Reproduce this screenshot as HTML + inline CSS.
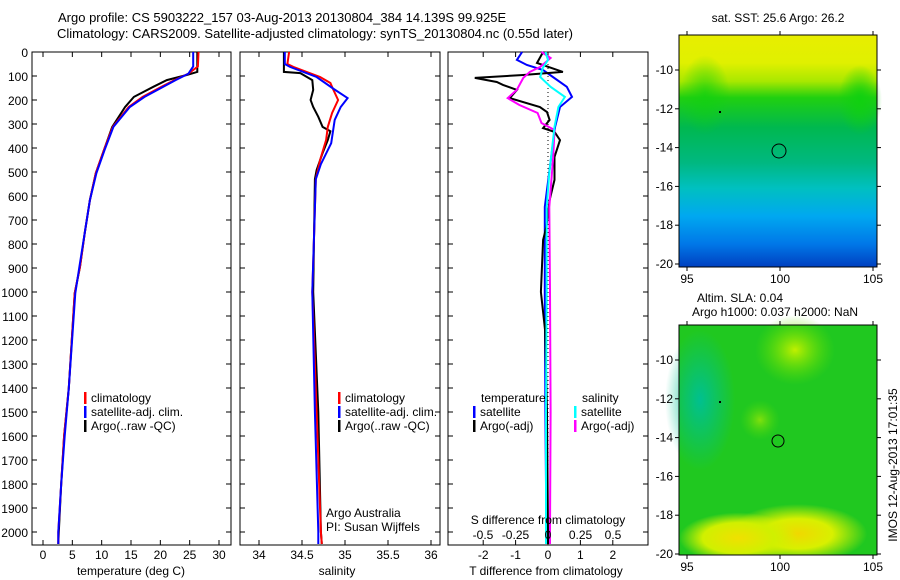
<!DOCTYPE html>
<html><head><meta charset="utf-8"><style>
body{margin:0;background:#fff;overflow:hidden;}
svg{display:block;font-family:"Liberation Sans",sans-serif;}
text{font-size:12px;fill:#000;}
</style></head><body>
<svg id="c" width="900" height="580" viewBox="0 0 900 580">
<defs>
<linearGradient id="sstBase" x1="0" y1="0" x2="0" y2="1">
<stop offset="0" stop-color="#e8ee00"/><stop offset="0.12" stop-color="#e0f000"/><stop offset="0.2" stop-color="#a8e800"/>
<stop offset="0.27" stop-color="#20d010"/><stop offset="0.4" stop-color="#00b850"/><stop offset="0.55" stop-color="#00b880"/>
<stop offset="0.66" stop-color="#00c0c0"/><stop offset="0.78" stop-color="#00a8f0"/><stop offset="0.9" stop-color="#0078e8"/>
<stop offset="1" stop-color="#0040c0"/></linearGradient>
<radialGradient id="y1" cx="0.6" cy="0.75" r="0.35"><stop offset="0" stop-color="#f0d800"/><stop offset="0.5" stop-color="#d8f000"/><stop offset="1" stop-color="#d8f000" stop-opacity="0"/></radialGradient>
<radialGradient id="y2" cx="0.3" cy="0.8" r="0.3"><stop offset="0" stop-color="#f0e000"/><stop offset="0.6" stop-color="#d0f000"/><stop offset="1" stop-color="#d0f000" stop-opacity="0"/></radialGradient>
<radialGradient id="y3" cx="0.5" cy="0.5" r="0.5"><stop offset="0" stop-color="#c0f000"/><stop offset="1" stop-color="#60e000" stop-opacity="0"/></radialGradient>
<radialGradient id="t1" cx="0.5" cy="0.5" r="0.5"><stop offset="0" stop-color="#00c090"/><stop offset="1" stop-color="#00c090" stop-opacity="0"/></radialGradient>
<radialGradient id="g1" cx="0.5" cy="0.5" r="0.5"><stop offset="0" stop-color="#10d010"/><stop offset="1" stop-color="#10d010" stop-opacity="0"/></radialGradient>
</defs>
<g id="title">
<text x="58" y="22" style="font-size:13px">Argo profile: CS 5903222_157 03-Aug-2013 20130804_384 14.139S 99.925E</text>
<text x="57" y="38" style="font-size:13px">Climatology: CARS2009. Satellite-adjusted climatology: synTS_20130804.nc (0.55d later)</text>
</g>
<g id="p1"></g>
<g id="p2"></g>
<g id="p3"></g>
<g id="maps">
<text x="778" y="22" text-anchor="middle">sat. SST: 25.6 Argo: 26.2</text>
<g>
<rect x="679" y="35" width="198" height="232" fill="url(#sstBase)"/>
<ellipse cx="860" cy="100" rx="22" ry="35" fill="url(#g1)"/>
<ellipse cx="705" cy="95" rx="25" ry="40" fill="url(#g1)" opacity="0.7"/>
<circle cx="779" cy="151" r="7" fill="none" stroke="#000" stroke-width="1"/>
<rect x="719" y="111" width="2" height="2" fill="#000"/>
</g>
<g>
<rect x="679" y="325" width="198" height="230" fill="#20c820"/>
<ellipse cx="700" cy="400" rx="35" ry="70" fill="url(#t1)"/>
<ellipse cx="795" cy="350" rx="40" ry="35" fill="url(#y3)"/>
<ellipse cx="760" cy="420" rx="20" ry="20" fill="url(#y3)" opacity="0.6"/>
<rect x="679" y="470" width="198" height="85" fill="url(#y1)"/>
<rect x="679" y="470" width="198" height="85" fill="url(#y2)"/>
<circle cx="778" cy="441" r="6" fill="none" stroke="#000" stroke-width="1"/>
<rect x="719" y="401" width="2" height="2" fill="#000"/>
</g>
<text x="740" y="302" text-anchor="middle">Altim. SLA: 0.04</text>
<text x="775" y="316" text-anchor="middle">Argo h1000: 0.037 h2000: NaN</text>
<text transform="translate(897,465) rotate(-90)" text-anchor="middle">IMOS 12-Aug-2013 17:01:35</text>
</g>
</svg>
<script>
const NS="http://www.w3.org/2000/svg";
// ---- data ----
const depthTicks=[0,100,200,300,400,500,600,700,800,900,1000,1100,1200,1300,1400,1500,1600,1700,1800,1900,2000];
const tempTicks=[0,5,10,15,20,25,30];
const salTicks=[34,34.5,35,35.5,36];
const tdiffTicks=[-2,-1,0,1,2];
const sdiffTicks=[-0.5,-0.25,0,0.25,0.5];
const sdiffTickLabels=["-0.5","-0.25","0","0.25","0.5"];
const argoTDepth=[0,83,96,117,145,187,229,312,408,505,617,755,895,1005,1400,1600,1800,2000,2050];
const argoT=[26.3,26.3,24.5,21.1,18.8,15.5,14,11.8,10.4,9,8,7.1,6.3,5.4,4.4,3.6,3.1,2.7,2.6];
const climTDepth=[0,60,90,117,145,187,229,312,408,505,617,755,895,1005,1400,1600,1800,2000,2050];
const climT=[26.5,26.4,24.8,22.4,20.2,17,14.6,11.9,10.4,9,8,7.1,6.3,5.4,4.4,3.6,3.1,2.6,2.6];
const satT=[25.6,25.6,24.8,22.6,20.5,17.3,14.8,12,10.5,9.1,8,7.1,6.2,5.5,4.4,3.7,3.1,2.6,2.6];
const argoSDepth=[0,83,88,117,158,200,229,270,312,330,367,421,492,530,1000,1500,2000,2050];
const argoS=[34.29,34.29,34.48,34.62,34.63,34.6,34.63,34.69,34.74,34.83,34.8,34.74,34.67,34.65,34.63,34.69,34.72,34.73];
const climSDepth=[0,50,62,104,129,154,200,254,312,367,450,530,1000,1500,2000,2050];
const climS=[34.35,34.33,34.4,34.71,34.83,34.86,34.92,34.85,34.8,34.78,34.71,34.66,34.62,34.67,34.72,34.73];
const satSDepth=[0,50,62,104,154,192,229,283,380,467,530,1000,1500,2000,2050];
const satS=[34.3,34.3,34.36,34.67,34.87,35.03,34.95,34.88,34.84,34.72,34.66,34.62,34.65,34.69,34.69];
const dTArgoDepth=[0,46,83,96,108,125,137,158,192,229,250,283,317,333,367,437,533,617,729,783,1000,1160,1500,2000,2050];
const dTArgo=[-0.15,-0.34,0.46,-0.77,-2.26,-1.58,-1.39,-0.96,-1.18,-0.25,-0.03,0.05,-0.15,0.2,0.37,0.2,0.2,0.05,-0.05,-0.15,-0.22,-0.09,-0.03,0,0];
const dTSatDepth=[0,33,54,75,104,145,187,229,312,437,646,1000,1500,2000,2050];
const dTSat=[-0.8,-0.96,-0.65,-0.15,0.15,0.58,0.74,0.37,0.22,0.1,-0.1,-0.1,-0.08,-0.05,-0.05];
const dSSatDepth=[0,33,67,104,145,187,229,312,504,646,1000,1500,2000,2050];
const dSSat=[-0.02,0,-0.04,-0.06,0.02,0.13,0.08,0.05,0.01,-0.01,-0.01,-0.015,-0.015,-0.015];
const dSArgoDepth=[0,25,62,83,108,158,192,221,254,296,325,437,646,1000,1500,2000,2050];
const dSArgo=[-0.05,0.02,-0.06,-0.14,-0.19,-0.24,-0.31,-0.22,-0.08,-0.05,0.05,0.04,0.01,0.015,0.02,0.015,0.015];
// ---- layout ----
const Y0=52,YB=545,PPM=0.24;
const yD=d=>Y0+d*PPM;
const xT=t=>43+t*5.867;
const xS=s=>259+(s-34)*86;
const xdT=t=>548+t*32.4;
const xdS=s=>548+s*130;
function el(parent,tag,attrs,txt){const e=document.createElementNS(NS,tag);for(const k in attrs)e.setAttribute(k,attrs[k]);if(txt!==undefined)e.textContent=txt;parent.appendChild(e);return e;}
function frame(g,x0,x1,xt,vals,labels,showDepth){
  const r=el(g,'rect',{x:x0,y:Y0,width:x1-x0,height:YB-Y0,fill:'none',stroke:'#000','stroke-width':1});
  
  
  depthTicks.forEach(d=>{
    el(g,'line',{x1:x0,x2:x0+5,y1:yD(d),y2:yD(d),stroke:'#000'});
    el(g,'line',{x1:x1-5,x2:x1,y1:yD(d),y2:yD(d),stroke:'#000'});
    if(showDepth){const t=el(g,'text',{x:28,y:yD(d)+5,'text-anchor':'end'},String(d));
      
      }
  });
  vals.forEach((v,i)=>{
    el(g,'line',{x1:xt(v),x2:xt(v),y1:Y0,y2:Y0+5,stroke:'#000'});
    el(g,'line',{x1:xt(v),x2:xt(v),y1:YB-5,y2:YB,stroke:'#000'});
    if(labels){const t=el(g,'text',{x:xt(v),y:YB+14,'text-anchor':'middle'},labels[i]);
      
      }
  });
}
function line(g,depths,vals,xf,color,name){
  const pts=depths.map((d,i)=>xf(vals[i]).toFixed(1)+','+yD(d).toFixed(1)).join(' ');
  const p=el(g,'polyline',{points:pts,fill:'none',stroke:color,'stroke-width':2,'stroke-linejoin':'miter'});
  
  
}
function legend(g,x,y,color,label){
  el(g,'rect',{x:x,y:y-10,width:2.5,height:12,fill:color});
  const t=el(g,'text',{x:x+7,y:y},label);
  
  
}
const p1=document.getElementById('p1'),p2=document.getElementById('p2'),p3=document.getElementById('p3');
frame(p1,32,231,xT,tempTicks,tempTicks.map(String),true);
line(p1,argoTDepth,argoT,xT,'#000','argo-temperature-line');
line(p1,climTDepth,climT,xT,'#f00','climatology-temperature-line');
line(p1,climTDepth,satT,xT,'#00f','satellite-temperature-line');
legend(p1,84,402,'#f00','climatology');legend(p1,84,416,'#00f','satellite-adj. clim.');legend(p1,84,430,'#000','Argo(..raw -QC)');
let t=el(p1,'text',{x:131,y:575,'text-anchor':'middle'},'temperature (deg C)');


frame(p2,240,440,xS,salTicks,salTicks.map(String),false);
line(p2,argoSDepth,argoS,xS,'#000','argo-salinity-line');
line(p2,climSDepth,climS,xS,'#f00','climatology-salinity-line');
line(p2,satSDepth,satS,xS,'#00f','satellite-salinity-line');
legend(p2,338,402,'#f00','climatology');legend(p2,338,416,'#00f','satellite-adj. clim.');legend(p2,338,430,'#000','Argo(..raw -QC)');
t=el(p2,'text',{x:326,y:517},'Argo Australia');


t=el(p2,'text',{x:326,y:531},'PI: Susan Wijffels');


t=el(p2,'text',{x:337,y:575,'text-anchor':'middle'},'salinity');


frame(p3,448,648,xdT,tdiffTicks,tdiffTicks.map(String),false);
el(p3,'line',{x1:548,x2:548,y1:Y0,y2:YB,stroke:'#000','stroke-dasharray':'1,3'});
line(p3,dTSatDepth,dTSat,xdT,'#00f','temperature-satellite-diff-line');
line(p3,dTArgoDepth,dTArgo,xdT,'#000','temperature-argo-diff-line');
line(p3,dSArgoDepth,dSArgo,xdS,'#f0f','salinity-argo-diff-line');
line(p3,dSSatDepth,dSSat,xdS,'#0ff','salinity-satellite-diff-line');
t=el(p3,'text',{x:481,y:402},'temperature');


t=el(p3,'text',{x:582,y:402},'salinity');


legend(p3,473,416,'#00f','satellite');legend(p3,473,430,'#000','Argo(-adj)');
legend(p3,574,416,'#0ff','satellite');legend(p3,574,430,'#f0f','Argo(-adj)');
t=el(p3,'text',{x:548,y:524,'text-anchor':'middle'},'S difference from climatology');


sdiffTicks.forEach((v,i)=>{const s=el(p3,'text',{x:xdS(v),y:539,'text-anchor':'middle'},sdiffTickLabels[i]);
  
  });
t=el(p3,'text',{x:546,y:575,'text-anchor':'middle'},'T difference from climatology');


// map axes
const maps=document.getElementById('maps');
const lons=[95,100,105],lats=[-10,-12,-14,-16,-18,-20];
const xLon=l=>687+(l-95)*18.6;
function mapAxes(top,bot,latf){
  el(maps,'rect',{x:679,y:top,width:198,height:bot-top,fill:'none',stroke:'#000'});
  lons.forEach(l=>{el(maps,'line',{x1:xLon(l),x2:xLon(l),y1:top-4,y2:top,stroke:'#000'});el(maps,'line',{x1:xLon(l),x2:xLon(l),y1:bot,y2:bot+4,stroke:'#000'});
    const s=el(maps,'text',{x:xLon(l),y:bot+16,'text-anchor':'middle'},String(l));
    
    });
  lats.forEach(a=>{const y=latf(a);if(y<top||y>bot+1)return;el(maps,'line',{x1:675,x2:679,y1:y,y2:y,stroke:'#000'});el(maps,'line',{x1:877,x2:881,y1:y,y2:y,stroke:'#000'});
    const s=el(maps,'text',{x:673,y:y+4,'text-anchor':'end'},String(a));
    
    });
}
mapAxes(35,267,a=>264-(a+20)*19.4);
mapAxes(325,555,a=>554-(a+20)*19.4);
</script>
</body></html>
